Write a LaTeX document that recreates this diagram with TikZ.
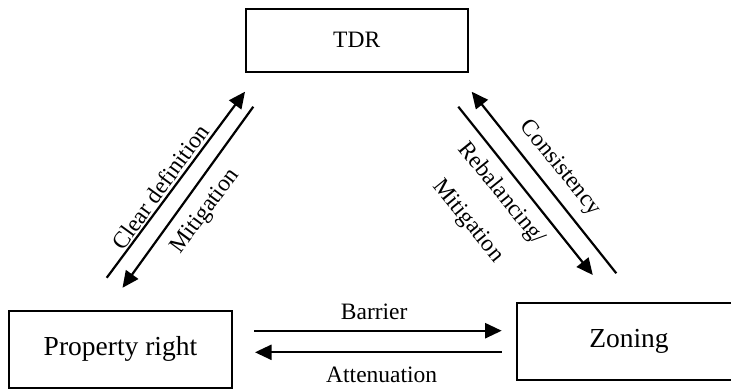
\documentclass[tikz,border=0pt]{standalone}
\usepackage{fontspec}
\setmainfont{Liberation Serif}
\usetikzlibrary{arrows.meta}
\begin{document}
\begin{tikzpicture}[x=1pt,y=-1pt,
  box/.style={draw, line width=2.2pt, inner sep=0pt, font=\fontsize{27.5}{33}\selectfont},
  link/.style={line width=2.2pt, -{Triangle[length=16.5pt,width=15pt]}},
  lbl/.style={font=\fontsize{23.5}{28}\selectfont, inner sep=0pt}]
\clip (0,0) rectangle (731,389);

% the three boxes
\node[box, minimum width=222pt, minimum height=62.7pt,
      font=\fontsize{23.5}{28}\selectfont] (tdr) at (356.7,40.3) {TDR};
\node[box, minimum width=223pt, minimum height=77pt] (prop) at (120.5,349.3) {Property right};
\node[box, minimum width=223.4pt, minimum height=77pt] (zon) at (629,341.5) {Zoning};

% arrow end points
\coordinate (cdA) at (106.7,277.8);  \coordinate (cdB) at (245,91.7);
\coordinate (miA) at (253.3,106.7);  \coordinate (miB) at (122.5,287.8);
\coordinate (coA) at (616.3,273.3);  \coordinate (coB) at (471.7,91.7);
\coordinate (reA) at (458.3,106.7);  \coordinate (reB) at (592.8,275);
\coordinate (baA) at (254,330.7);    \coordinate (baB) at (501.7,330.7);
\coordinate (atA) at (501.7,352.3);  \coordinate (atB) at (255,352.3);

% links between the boxes
\draw[link] (cdA) -- (cdB);
\draw[link] (miA) -- (miB);
\draw[link] (coA) -- (coB);
\draw[link] (reA) -- (reB);
\draw[link] (baA) -- (baB);
\draw[link] (atA) -- (atB);

% labels of the links
\node[lbl, rotate=54] (lcd) at (160,186.7) {Clear definition};
\node[lbl, rotate=53.5] (lmi) at (205.8,211.7) {Mitigation};
\node[lbl, rotate=-51] (lco) at (560,168.3) {Consistency};
\node[lbl, rotate=-51, align=center] (lre) at (484.6,207.5) {Rebalancing/\\[15pt]Mitigation};
\node[lbl] (lba) at (374.2,311.7) {Barrier};
\node[lbl] (lat) at (381.7,375) {Attenuation};
\end{tikzpicture}
\end{document}
